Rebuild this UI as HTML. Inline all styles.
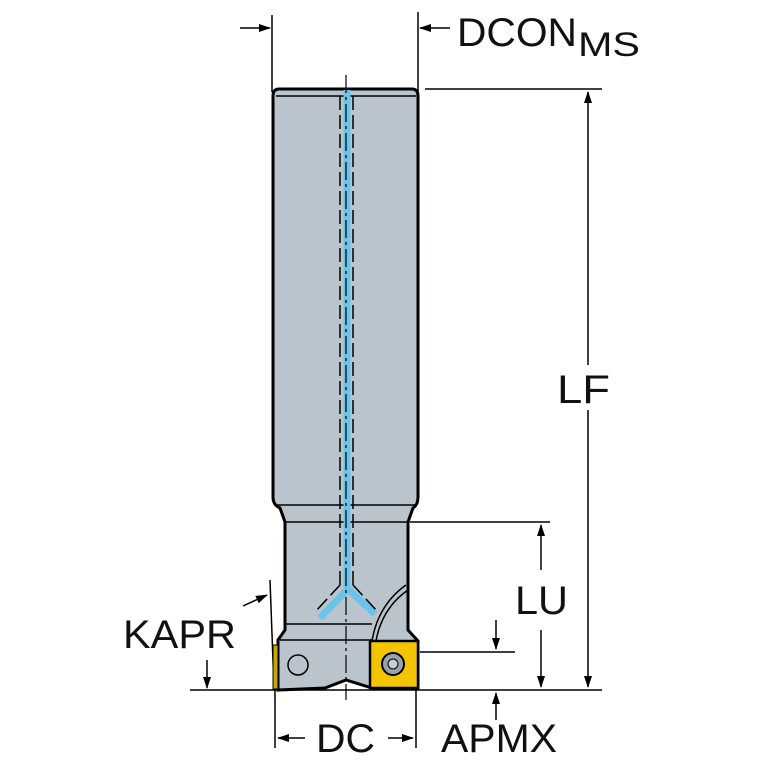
<!DOCTYPE html>
<html><head><style>html,body{margin:0;padding:0;background:#fff}svg{display:block}
text{font-family:"Liberation Sans",Arial,sans-serif;fill:#111}</style></head><body>
<svg width="767" height="767" viewBox="0 0 767 767" xmlns="http://www.w3.org/2000/svg">
<defs><marker id="a" markerWidth="12" markerHeight="8" refX="11" refY="4" orient="auto" markerUnits="userSpaceOnUse"><path d="M0,0 L12,4 L0,8 Z" fill="#000"/></marker></defs>
<g stroke="#000" fill="none" stroke-width="1.5">
<line x1="272" y1="15" x2="272" y2="92"/>
<line x1="418" y1="12" x2="418" y2="92"/>
<line x1="240" y1="28" x2="270" y2="28" marker-end="url(#a)"/>
<line x1="450" y1="28" x2="420" y2="28" marker-end="url(#a)"/>
<line x1="425" y1="89" x2="602" y2="89"/>
<line x1="410" y1="522" x2="550" y2="522"/>
<line x1="420" y1="652" x2="515" y2="652"/>
<line x1="190" y1="690" x2="602" y2="690"/>
<line x1="588" y1="365" x2="588" y2="92" marker-end="url(#a)"/>
<line x1="588" y1="410" x2="588" y2="687" marker-end="url(#a)"/>
<line x1="541" y1="570" x2="541" y2="525" marker-end="url(#a)"/>
<line x1="541" y1="630" x2="541" y2="687" marker-end="url(#a)"/>
<line x1="496" y1="620" x2="496" y2="649" marker-end="url(#a)"/>
<line x1="496" y1="720" x2="496" y2="693" marker-end="url(#a)"/>
<line x1="275" y1="690" x2="275" y2="748"/>
<line x1="416" y1="690" x2="416" y2="748"/>
<line x1="305" y1="738" x2="278" y2="738" marker-end="url(#a)"/>
<line x1="388" y1="738" x2="413" y2="738" marker-end="url(#a)"/>
<line x1="207" y1="660" x2="207" y2="688" marker-end="url(#a)"/>
<line x1="270" y1="580" x2="274" y2="688"/>
<line x1="243" y1="606" x2="267" y2="595" marker-end="url(#a)"/>
</g>
<g stroke="#000" stroke-width="3" fill="#b9c4cd">
<path d="M279,89 L412,89 Q418,89 418,96 L418,497 Q418,505 413,508 L408,522 L408,630 L418,641 L418,688 L372,688 L346,680 L325,688 L278,690 L278,640 L285,630 L285,522 L280,508 Q273,505 273,497 L273,96 Q273,89 279,89 Z"/>
</g>
<g stroke="#000" stroke-width="1.5" fill="none">
<line x1="276" y1="96" x2="416" y2="96"/>
<line x1="276" y1="505" x2="416" y2="505"/>
<line x1="285" y1="522" x2="408" y2="522"/>
<line x1="285" y1="624" x2="372" y2="624"/>
<line x1="280" y1="640" x2="372" y2="640"/>
<path d="M372,641 Q378,605 406,585"/>
<path d="M376,641 Q382,608 408,590"/>
<circle cx="298" cy="665" r="10"/>
</g>
<g fill="none" stroke="#6cc3ea" stroke-width="7">
<line x1="347" y1="90" x2="347" y2="592"/>
<path d="M347,590 L320,618"/>
<path d="M349,590 L375,614"/>
</g>
<g fill="none" stroke="#000" stroke-width="1.5" stroke-dasharray="14,5">
<line x1="340" y1="96" x2="340" y2="585"/>
<line x1="353" y1="96" x2="353" y2="585"/>
<path d="M340,585 L315,612"/><path d="M353,585 L378,612"/>
</g>
<line x1="346" y1="75" x2="346" y2="700" stroke="#000" stroke-width="1.2" stroke-dasharray="18,4,3,4"/>
<rect x="370" y="641" width="48" height="47" fill="#f2c500" stroke="#000" stroke-width="2.5"/>
<circle cx="393" cy="664" r="11" fill="#9aa3aa" stroke="#000" stroke-width="2"/>
<circle cx="393" cy="664" r="5" fill="#c9cfd3" stroke="#000" stroke-width="1"/>
<rect x="273" y="645" width="5" height="44" fill="#c8a500" stroke="#000" stroke-width="1"/>
<text x="457" y="46" font-size="40" textLength="120" lengthAdjust="spacingAndGlyphs">DCON</text><text x="578" y="56" font-size="34" textLength="62" lengthAdjust="spacingAndGlyphs">MS</text>
<text x="557" y="403" font-size="40" textLength="53" lengthAdjust="spacingAndGlyphs">LF</text>
<text x="515" y="614" font-size="40" textLength="53" lengthAdjust="spacingAndGlyphs">LU</text>
<text x="123" y="648" font-size="40" textLength="113" lengthAdjust="spacingAndGlyphs">KAPR</text>
<text x="316" y="752" font-size="40" textLength="59" lengthAdjust="spacingAndGlyphs">DC</text>
<text x="441" y="752" font-size="40" textLength="116" lengthAdjust="spacingAndGlyphs">APMX</text>
</svg>
</body></html>
